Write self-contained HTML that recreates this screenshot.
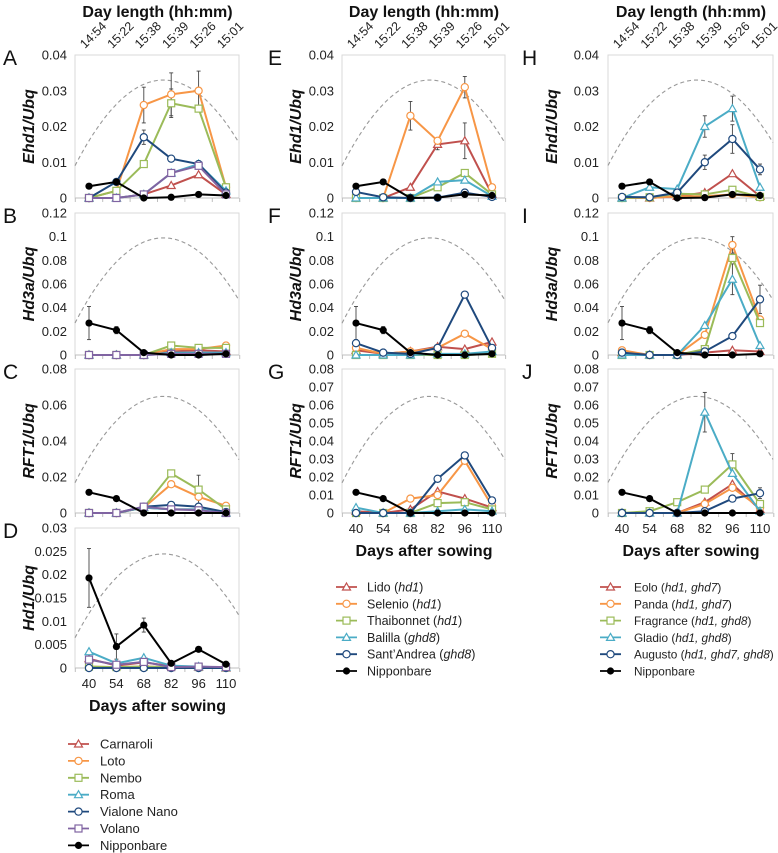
<!DOCTYPE html>
<html><head><meta charset="utf-8">
<style>
html,body{margin:0;padding:0;background:#fff;}
svg{display:block;font-family:"Liberation Sans",sans-serif;}
</style></head>
<body>
<svg id="fig" width="778" height="853" viewBox="0 0 778 853" xmlns="http://www.w3.org/2000/svg"></svg>
<script>
const days = [40, 54, 68, 82, 96, 110];
const dayLengths = ["14:54", "15:22", "15:38", "15:39", "15:26", "15:01"];
const colors = ["#c0504d", "#f79646", "#9bbb59", "#4bacc6", "#1f497d", "#8064a2", "#000000"];
const shapes = ["tri", "circ", "sq", "tri", "circ", "sq", "dot"];

const ticksEhd1 = [0, 0.01, 0.02, 0.03, 0.04];
const ticksHd3a = [0, 0.02, 0.04, 0.06, 0.08, 0.1, 0.12];
const ticksRFT1a = [0, 0.02, 0.04, 0.06, 0.08];
const ticksRFT1b = [0, 0.01, 0.02, 0.03, 0.04, 0.05, 0.06, 0.07, 0.08];
const ticksHd1 = [0, 0.005, 0.01, 0.015, 0.02, 0.025, 0.03];

const legend1 = ["Carnaroli", "Loto", "Nembo", "Roma", "Vialone Nano", "Volano", "Nipponbare"];
const legend2 = [["Lido (", "hd1", ")"], ["Selenio (", "hd1", ")"], ["Thaibonnet (", "hd1", ")"], ["Balilla (", "ghd8", ")"], ["Sant\u2019Andrea (", "ghd8", ")"], ["Nipponbare", "", ""]];
const legend3 = [["Eolo (", "hd1, ghd7", ")"], ["Panda (", "hd1, ghd7", ")"], ["Fragrance (", "hd1, ghd8", ")"], ["Gladio (", "hd1, ghd8", ")"], ["Augusto (", "hd1, ghd7, ghd8", ")"], ["Nipponbare", "", ""]];

// Panel A
const A_carn = [0, 0, 0.001, 0.0035, 0.0065, 0.001];
const A_loto = [0, 0.002, 0.026, 0.029, 0.030, 0.003];
const A_nembo = [0, 0.002, 0.0095, 0.0265, 0.025, 0.003];
const A_roma = [0, 0, 0.001, 0.007, 0.0095, 0.002];
const A_vn = [0, 0.0045, 0.017, 0.011, 0.0095, 0.0015];
const A_vol = [0, 0, 0.001, 0.007, 0.009, 0.001];
const A_nip = [0.0033, 0.0045, 0, 0.0002, 0.001, 0.0007];
// Panel B
const B_carn = [0, 0, 0, 0.003, 0.004, 0.003];
const B_loto = [0, 0, 0, 0.005, 0.005, 0.008];
const B_nembo = [0, 0, 0, 0.008, 0.006, 0.006];
const B_roma = [0, 0, 0, 0.002, 0.002, 0.002];
const B_vn = [0, 0, 0, 0.001, 0.001, 0.001];
const B_vol = [0, 0, 0, 0.001, 0.001, 0.001];
const B_nip = [0.027, 0.021, 0.002, 0, 0, 0.001];
// Panel C
const C_carn = [0, 0, 0.003, 0.002, 0.002, 0];
const C_loto = [0, 0, 0.003, 0.016, 0.009, 0.004];
const C_nembo = [0, 0, 0.003, 0.022, 0.013, 0.002];
const C_roma = [0, 0, 0.003, 0.002, 0.002, 0];
const C_vn = [0, 0, 0.0035, 0.0045, 0.0035, 0.0005];
const C_vol = [0, 0, 0.0035, 0.002, 0.0015, 0];
const C_nip = [0.0115, 0.008, 0, 0, 0, 0];
// Panel D
const D_carn = [0.002, 0.0005, 0.0012, 0.0004, 0.0002, 0];
const D_loto = [0.0003, 0.0002, 0.0003, 0.0002, 0.0002, 0.0001];
const D_nembo = [0.0003, 0.0002, 0.0003, 0.0002, 0.0002, 0.0001];
const D_roma = [0.0035, 0.001, 0.0022, 0.0005, 0.0003, 0.0001];
const D_vn = [0, 0, 0, 0, 0, 0];
const D_vol = [0.0018, 0.0007, 0.0013, 0.0002, 0.0003, 0.0002];
const D_nip = [0.0193, 0.0046, 0.0092, 0.001, 0.004, 0.0008];
// Panel E
const E_lido = [0, 0, 0.003, 0.015, 0.016, 0.001];
const E_sel = [0, 0, 0.023, 0.016, 0.031, 0.003];
const E_thai = [0, 0, 0, 0.003, 0.007, 0.001];
const E_bal = [0, 0, 0, 0.0045, 0.005, 0.0005];
const E_sa = [0.0017, 0.0002, 0, 0.0001, 0.0015, 0.0003];
const E_nip = [0.0033, 0.0045, 0, 0.0001, 0.001, 0.0007];
// Panel F
const F_lido = [0.004, 0.001, 0.003, 0.007, 0.005, 0.011];
const F_sel = [0.006, 0.001, 0.003, 0.006, 0.018, 0.005];
const F_thai = [0, 0, 0, 0, 0, 0.001];
const F_bal = [0, 0, 0, 0.001, 0.001, 0.003];
const F_sa = [0.01, 0.002, 0.001, 0.006, 0.051, 0.006];
const F_nip = [0.027, 0.021, 0.002, 0, 0, 0.001];
// Panel G
const G_lido = [0.001, 0, 0.002, 0.012, 0.008, 0.003];
const G_sel = [0, 0, 0.008, 0.010, 0.029, 0.004];
const G_thai = [0, 0, 0, 0.0055, 0.006, 0.002];
const G_bal = [0.003, 0, 0, 0.001, 0.002, 0.001];
const G_sa = [0, 0, 0, 0.019, 0.032, 0.007];
const G_nip = [0.0115, 0.008, 0, 0, 0, 0];
// Panel H
const H_eolo = [0, 0, 0.0005, 0.0015, 0.0068, 0.0005];
const H_panda = [0, 0, 0.0005, 0.0005, 0.001, 0.0002];
const H_frag = [0, 0.0002, 0.0012, 0.001, 0.0023, 0.0003];
const H_glad = [0, 0.003, 0.0025, 0.020, 0.025, 0.003];
const H_aug = [0.0003, 0.0002, 0.0015, 0.010, 0.0165, 0.008];
const H_nip = [0.0033, 0.0045, 0, 0.0001, 0.001, 0.0007];
// Panel I
const I_eolo = [0.002, 0, 0, 0.002, 0.004, 0.003];
const I_panda = [0.004, 0, 0, 0.017, 0.093, 0.030];
const I_frag = [0, 0, 0, 0.005, 0.082, 0.027];
const I_glad = [0, 0, 0, 0.025, 0.064, 0.008];
const I_aug = [0.002, 0, 0, 0.003, 0.016, 0.047];
const I_nip = [0.027, 0.021, 0.002, 0, 0, 0.001];
// Panel J
const J_eolo = [0, 0, 0, 0.006, 0.016, 0.002];
const J_panda = [0, 0, 0, 0.005, 0.014, 0.003];
const J_frag = [0, 0.001, 0.006, 0.013, 0.027, 0.005];
const J_glad = [0, 0, 0, 0.056, 0.022, 0.001];
const J_aug = [0, 0, 0, 0.001, 0.008, 0.011];
const J_nip = [0.0115, 0.008, 0, 0, 0, 0];

// error bars (half-widths)
const A_err_loto = [0, 0, 0.005, 0.006, 0.0055, 0];
const A_err_nembo = [0, 0, 0, 0.004, 0, 0];
const A_err_vn = [0, 0, 0.002, 0, 0, 0];
const B_err_nip = [0.014, 0.003, 0, 0, 0, 0];
const C_err_nembo = [0, 0, 0, 0, 0.008, 0];
const D_err_nip = [0.0063, 0.0027, 0.0015, 0, 0.0005, 0];
const E_err_sel = [0, 0, 0.004, 0, 0.003, 0];
const E_err_lido = [0, 0, 0, 0.0015, 0.005, 0];
const F_err_nip = [0.014, 0.003, 0, 0, 0, 0];
const H_err_glad = [0, 0, 0, 0.003, 0.0035, 0];
const H_err_aug = [0, 0, 0, 0.002, 0.004, 0.0015];
const I_err_nip = [0.014, 0.003, 0, 0, 0, 0];
const I_err_panda = [0, 0, 0, 0, 0.007, 0];
const I_err_glad = [0, 0, 0, 0, 0.013, 0];
const I_err_aug = [0, 0, 0, 0, 0, 0.012];
const J_err_glad = [0, 0, 0, 0.011, 0, 0];
const J_err_frag = [0, 0, 0, 0, 0.006, 0];
const J_err_aug = [0, 0, 0, 0, 0, 0.003];

const NS = "http://www.w3.org/2000/svg";
const svg = document.getElementById("fig");
function mk(tag, attrs, parent) {
  const e = document.createElementNS(NS, tag);
  for (const k in attrs) e.setAttribute(k, attrs[k]);
  (parent || svg).appendChild(e);
  return e;
}
const cols = [
  {pl: 75, pr: 239, x40: 89, x110: 226, lab: 67, letter: 3, yt: 30},
  {pl: 342, pr: 505, x40: 356, x110: 492, lab: 334, letter: 268, yt: 297},
  {pl: 608, pr: 773, x40: 622, x110: 760, lab: 599, letter: 522, yt: 553}
];
const rows = [{top: 55, bot: 198}, {top: 213, bot: 355}, {top: 369, bot: 513}, {top: 528, bot: 668}];

const panels = [
  {L: "A", c: 0, r: 0, t: ticksEhd1, g: "Ehd1", s: [A_carn, A_loto, A_nembo, A_roma, A_vn, A_vol, A_nip], ci: [0,1,2,3,4,5,6], e: [[1, A_err_loto], [2, A_err_nembo], [4, A_err_vn]], peak: 0.825},
  {L: "B", c: 0, r: 1, t: ticksHd3a, g: "Hd3a", s: [B_carn, B_loto, B_nembo, B_roma, B_vn, B_vol, B_nip], ci: [0,1,2,3,4,5,6], e: [[6, B_err_nip]], peak: 0.825},
  {L: "C", c: 0, r: 2, t: ticksRFT1a, g: "RFT1", s: [C_carn, C_loto, C_nembo, C_roma, C_vn, C_vol, C_nip], ci: [0,1,2,3,4,5,6], e: [[2, C_err_nembo]], peak: 0.81},
  {L: "D", c: 0, r: 3, t: ticksHd1, g: "Hd1", s: [D_carn, D_loto, D_nembo, D_roma, D_vn, D_vol, D_nip], ci: [0,1,2,3,4,5,6], e: [[6, D_err_nip]], peak: 0.815, xl: true},
  {L: "E", c: 1, r: 0, t: ticksEhd1, g: "Ehd1", s: [E_lido, E_sel, E_thai, E_bal, E_sa, E_nip], ci: [0,1,2,3,4,6], e: [[1, E_err_sel], [0, E_err_lido]], peak: 0.825},
  {L: "F", c: 1, r: 1, t: ticksHd3a, g: "Hd3a", s: [F_lido, F_sel, F_thai, F_bal, F_sa, F_nip], ci: [0,1,2,3,4,6], e: [[5, F_err_nip]], peak: 0.825},
  {L: "G", c: 1, r: 2, t: ticksRFT1b, g: "RFT1", s: [G_lido, G_sel, G_thai, G_bal, G_sa, G_nip], ci: [0,1,2,3,4,6], e: [], peak: 0.81, xl: true},
  {L: "H", c: 2, r: 0, t: ticksEhd1, g: "Ehd1", s: [H_eolo, H_panda, H_frag, H_glad, H_aug, H_nip], ci: [0,1,2,3,4,6], e: [[3, H_err_glad], [4, H_err_aug]], peak: 0.825},
  {L: "I", c: 2, r: 1, t: ticksHd3a, g: "Hd3a", s: [I_eolo, I_panda, I_frag, I_glad, I_aug, I_nip], ci: [0,1,2,3,4,6], e: [[5, I_err_nip], [1, I_err_panda], [3, I_err_glad], [4, I_err_aug]], peak: 0.825},
  {L: "J", c: 2, r: 2, t: ticksRFT1b, g: "RFT1", s: [J_eolo, J_panda, J_frag, J_glad, J_aug, J_nip], ci: [0,1,2,3,4,6], e: [[3, J_err_glad], [2, J_err_frag], [4, J_err_aug]], peak: 0.81, xl: true}
];

function marker(parent, shape, color, x, y) {
  let m;
  if (shape === "dot") m = mk("circle", {cx: x, cy: y, r: 3.6, fill: "#000"}, parent);
  else if (shape === "circ") m = mk("circle", {cx: x, cy: y, r: 3.6, fill: "#fff", stroke: color, "stroke-width": 1.2}, parent);
  else if (shape === "sq") m = mk("rect", {x: x - 3.5, y: y - 3.5, width: 7, height: 7, fill: "#fff", stroke: color, "stroke-width": 1.2}, parent);
  else m = mk("polygon", {points: `${x},${y-4} ${x+4},${y+3} ${x-4},${y+3}`, fill: "#fff", stroke: color, "stroke-width": 1.2}, parent);
  return m;
}

panels.forEach(p => {
  const C = cols[p.c], R = rows[p.r];
  const ymax = p.t[p.t.length - 1];
  const xs = d => C.x40 + (d - 40) / 70 * (C.x110 - C.x40);
  const ys = v => R.bot - v / ymax * (R.bot - R.top);
  const g = mk("g", {});
  
  
  const box = mk("rect", {x: C.pl, y: R.top, width: C.pr - C.pl, height: R.bot - R.top, fill: "none", stroke: "#d9d9d9", "stroke-width": 1}, g);
  
  
  p.t.forEach(v => {
    const t = mk("text", {x: C.lab, y: ys(v) + 4.5, "text-anchor": "end", "font-size": 13, fill: "#222"}, g);
    t.textContent = String(v);
    
    
  });
  mk("line", {x1: C.pl, x2: C.pr, y1: R.bot, y2: R.bot, stroke: "#bfbfbf", "stroke-width": 1}, g);
  for (let i = 0; i <= days.length; i++) {
    const xx = xs(33 + i * 14);
    mk("line", {x1: xx, x2: xx, y1: R.bot, y2: R.bot + 4, stroke: "#bfbfbf"}, g);
  }
  const L = mk("text", {x: C.letter, y: R.top + 10, "font-size": 21, fill: "#111"}, g);
  L.textContent = p.L;
  
  
  const yc = (R.top + R.bot) / 2;
  const yt = mk("text", {x: C.yt, y: yc, transform: `rotate(-90 ${C.yt} ${yc})`, "text-anchor": "middle", "font-size": 16, "font-weight": "bold", "font-style": "italic", fill: "#111", "dominant-baseline": "middle"}, g);
  yt.textContent = p.g + "/Ubq";
  
  
  let dpts = [];
  const d0 = 40 - (C.x40 - C.pl) / (C.x110 - C.x40) * 70;
  const d1 = 110 + (C.pr - C.x110) / (C.x110 - C.x40) * 70;
  for (let k = 0; k <= 40; k++) {
    const d = d0 + (d1 - d0) * k / 40;
    const f = p.peak - 0.000294 * (d - 78) * (d - 78);
    dpts.push(xs(d).toFixed(1) + "," + (R.bot - f * (R.bot - R.top)).toFixed(1));
  }
  const curve = mk("polyline", {points: dpts.join(" "), fill: "none", stroke: "#999", "stroke-width": 1.1, "stroke-dasharray": "4,3"}, g);
  
  
  p.e.forEach(([si, err]) => {
    const data = p.s[si];
    err.forEach((e, i) => {
      if (!e) return;
      const x = xs(days[i]);
      mk("line", {x1: x, x2: x, y1: ys(data[i] + e), y2: ys(Math.max(0, data[i] - e)), stroke: "#444", "stroke-width": 0.9}, g);
      mk("line", {x1: x - 2, x2: x + 2, y1: ys(data[i] + e), y2: ys(data[i] + e), stroke: "#444", "stroke-width": 0.9}, g);
      mk("line", {x1: x - 2, x2: x + 2, y1: ys(Math.max(0, data[i] - e)), y2: ys(Math.max(0, data[i] - e)), stroke: "#444", "stroke-width": 0.9}, g);
    });
  });
  p.s.forEach((data, si) => {
    const c = p.ci[si];
    const sg = mk("g", {}, g);
    
    
    mk("polyline", {points: data.map((v, i) => xs(days[i]) + "," + ys(v)).join(" "), fill: "none", stroke: colors[c], "stroke-width": 2}, sg);
    data.forEach((v, i) => {
      const m = marker(sg, shapes[c], colors[c], xs(days[i]), ys(v));
      
      
    });
  });
  if (p.xl) {
    days.forEach(d => {
      const t = mk("text", {x: xs(d), y: R.bot + 20, "text-anchor": "middle", "font-size": 13, fill: "#222"}, g);
      t.textContent = d;
      
      
    });
    const xt = mk("text", {x: (C.x40 + C.x110) / 2, y: R.bot + 43, "text-anchor": "middle", "font-size": 16, "font-weight": "bold", fill: "#111"}, g);
    xt.textContent = "Days after sowing";
    
    
  }
});

cols.forEach(C => {
  const xs = d => C.x40 + (d - 40) / 70 * (C.x110 - C.x40);
  const tt = mk("text", {x: (C.x40 + C.x110) / 2, y: 17, "text-anchor": "middle", "font-size": 16, "font-weight": "bold", fill: "#111"});
  tt.textContent = "Day length (hh:mm)";
  
  
  dayLengths.forEach((s, i) => {
    const x = xs(days[i]) - 4, y = 49;
    const t = mk("text", {x: x, y: y, transform: `rotate(-45 ${x} ${y})`, "font-size": 12.5, fill: "#222"});
    t.textContent = s;
    
    
  });
});

function legend(items, mx, tx, y0, dy, cidx, fs) {
  const lg = mk("g", {});
  
  
  items.forEach((it, i) => {
    const y = y0 + i * dy;
    const c = cidx[i];
    const e = mk("g", {}, lg);
    
    
    mk("line", {x1: mx, x2: mx + 21, y1: y, y2: y, stroke: colors[c], "stroke-width": 1.8}, e);
    marker(e, shapes[c], colors[c], mx + 10.5, y);
    const t = mk("text", {x: tx, y: y + 4.5, "font-size": fs, fill: "#222"}, e);
    if (typeof it === "string") t.textContent = it;
    else {
      const a = mk("tspan", {}, t); a.textContent = it[0];
      if (it[1]) { const b = mk("tspan", {"font-style": "italic"}, t); b.textContent = it[1]; }
      if (it[2]) { const d = mk("tspan", {}, t); d.textContent = it[2]; }
    }
  });
}
legend(legend1, 68, 100, 744, 16.9, [0,1,2,3,4,5,6], 13);
legend(legend2, 336, 367, 587, 16.8, [0,1,2,3,4,6], 12.5);
legend(legend3, 600, 634, 587, 16.8, [0,1,2,3,4,6], 11.8);
</script>
</body></html>
